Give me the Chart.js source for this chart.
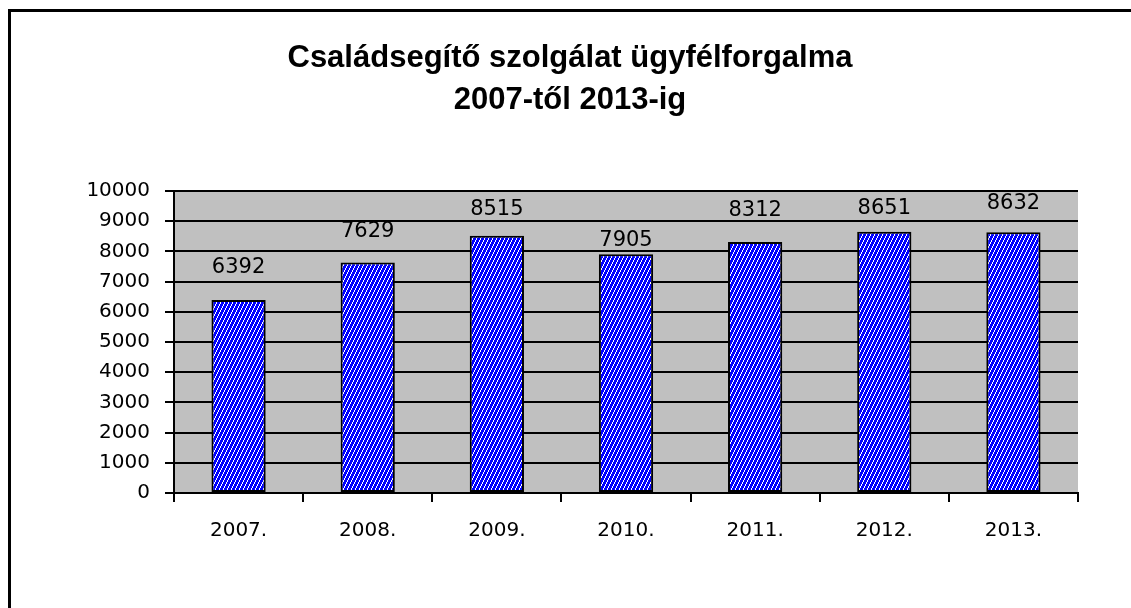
<!DOCTYPE html>
<html>
<head>
<meta charset="utf-8">
<script src="https://cdn.jsdelivr.net/npm/chart.js@4"></script>
<style>
  body { margin: 0; background: #fff; }
  canvas { display: block; }
</style>
</head>
<body>
<canvas id="chart" width="1131" height="608"></canvas>
<script>
const years = ["2007.", "2008.", "2009.", "2010.", "2011.", "2012.", "2013."];
const clients = [6392, 7629, 8515, 7905, 8312, 8651, 8632];
const yTicks = [0, 1000, 2000, 3000, 4000, 5000, 6000, 7000, 8000, 9000, 10000];
const titleLines = ["Családsegítő szolgálat ügyfélforgalma", "2007-től 2013-ig"];

// how far each value label sits above its bar (hand placed in the original)
const labelLift = [32, 31, 26, 14, 31, 23, 29];

function makeHatch() {
  const c = document.createElement("canvas");
  c.width = 4;
  c.height = 8;
  const g = c.getContext("2d");
  g.fillStyle = "#0000ff";
  g.fillRect(0, 0, 4, 8);
  g.fillStyle = "#ffffff";
  for (let y = 0; y < 8; y++) {
    g.fillRect(3 - Math.floor(y / 2), y, 1, 1);
  }
  return g.createPattern(c, "repeat");
}

// white page, black frame, grey plot area and the two line title
const backdrop = {
  id: "backdrop",
  beforeDraw(chart) {
    const { ctx, chartArea } = chart;
    ctx.save();
    ctx.fillStyle = "#ffffff";
    ctx.fillRect(0, 0, chart.width, chart.height);
    ctx.strokeStyle = "#000";
    ctx.lineWidth = 3;
    ctx.strokeRect(9.5, 10.5, 1300, 800);
    ctx.fillStyle = "#c0c0c0";
    ctx.fillRect(chartArea.left, chartArea.top, chartArea.right - chartArea.left, chartArea.bottom - chartArea.top);

    ctx.fillStyle = "#000";
    ctx.font = "bold 31px 'Liberation Sans', Arial, sans-serif";
    ctx.textAlign = "center";
    ctx.textBaseline = "middle";
    titleLines.forEach((line, i) => {
      ctx.fillText(line, 570, 58 + i * 42);
    });
    ctx.restore();
  },
};

const valueLabels = {
  id: "valueLabels",
  afterDatasetsDraw(chart) {
    const { ctx } = chart;
    const meta = chart.getDatasetMeta(0);
    ctx.save();
    ctx.font = "21px 'DejaVu Sans'";
    ctx.fillStyle = "#000";
    ctx.textAlign = "center";
    ctx.textBaseline = "middle";
    meta.data.forEach((bar, i) => {
      ctx.fillText(String(clients[i]), bar.x, bar.y - labelLift[i]);
    });
    ctx.restore();
  },
};

const ctx = document.getElementById("chart").getContext("2d");

new Chart(ctx, {
  type: "bar",
  data: {
    labels: years,
    datasets: [
      {
        data: clients,
        backgroundColor: makeHatch(),
        borderColor: "#000",
        borderWidth: 2,
        borderSkipped: false,
        categoryPercentage: 1,
        barPercentage: 0.42,
      },
    ],
  },
  options: {
    responsive: false,
    animation: false,
    devicePixelRatio: 1,
    layout: { padding: { left: 0, right: 53, top: 191, bottom: 0 } },
    plugins: {
      legend: { display: false },
      tooltip: { enabled: false },
      title: { display: false },
    },
    scales: {
      x: {
        grid: { drawOnChartArea: false, drawTicks: true, tickLength: 9, color: "#000", lineWidth: 2, offset: true },
        border: { display: true, color: "#000", width: 2 },
        ticks: { color: "#000", font: { family: "'DejaVu Sans'", size: 20 }, padding: 17 },
        afterFit(scale) { scale.height = 115; },
      },
      y: {
        min: 0,
        max: 10000,
        afterBuildTicks(scale) { scale.ticks = yTicks.map((v) => ({ value: v })); },
        grid: { color: "#000", lineWidth: 2, tickLength: 9, drawTicks: true },
        border: { display: true, color: "#000", width: 2 },
        ticks: {
          color: "#000",
          font: { family: "'DejaVu Sans'", size: 20 },
          padding: 15,
          callback: (v) => String(v),
        },
        afterFit(scale) { scale.width = 174; },
      },
    },
  },
  plugins: [backdrop, valueLabels],
});
</script>
</body>
</html>
